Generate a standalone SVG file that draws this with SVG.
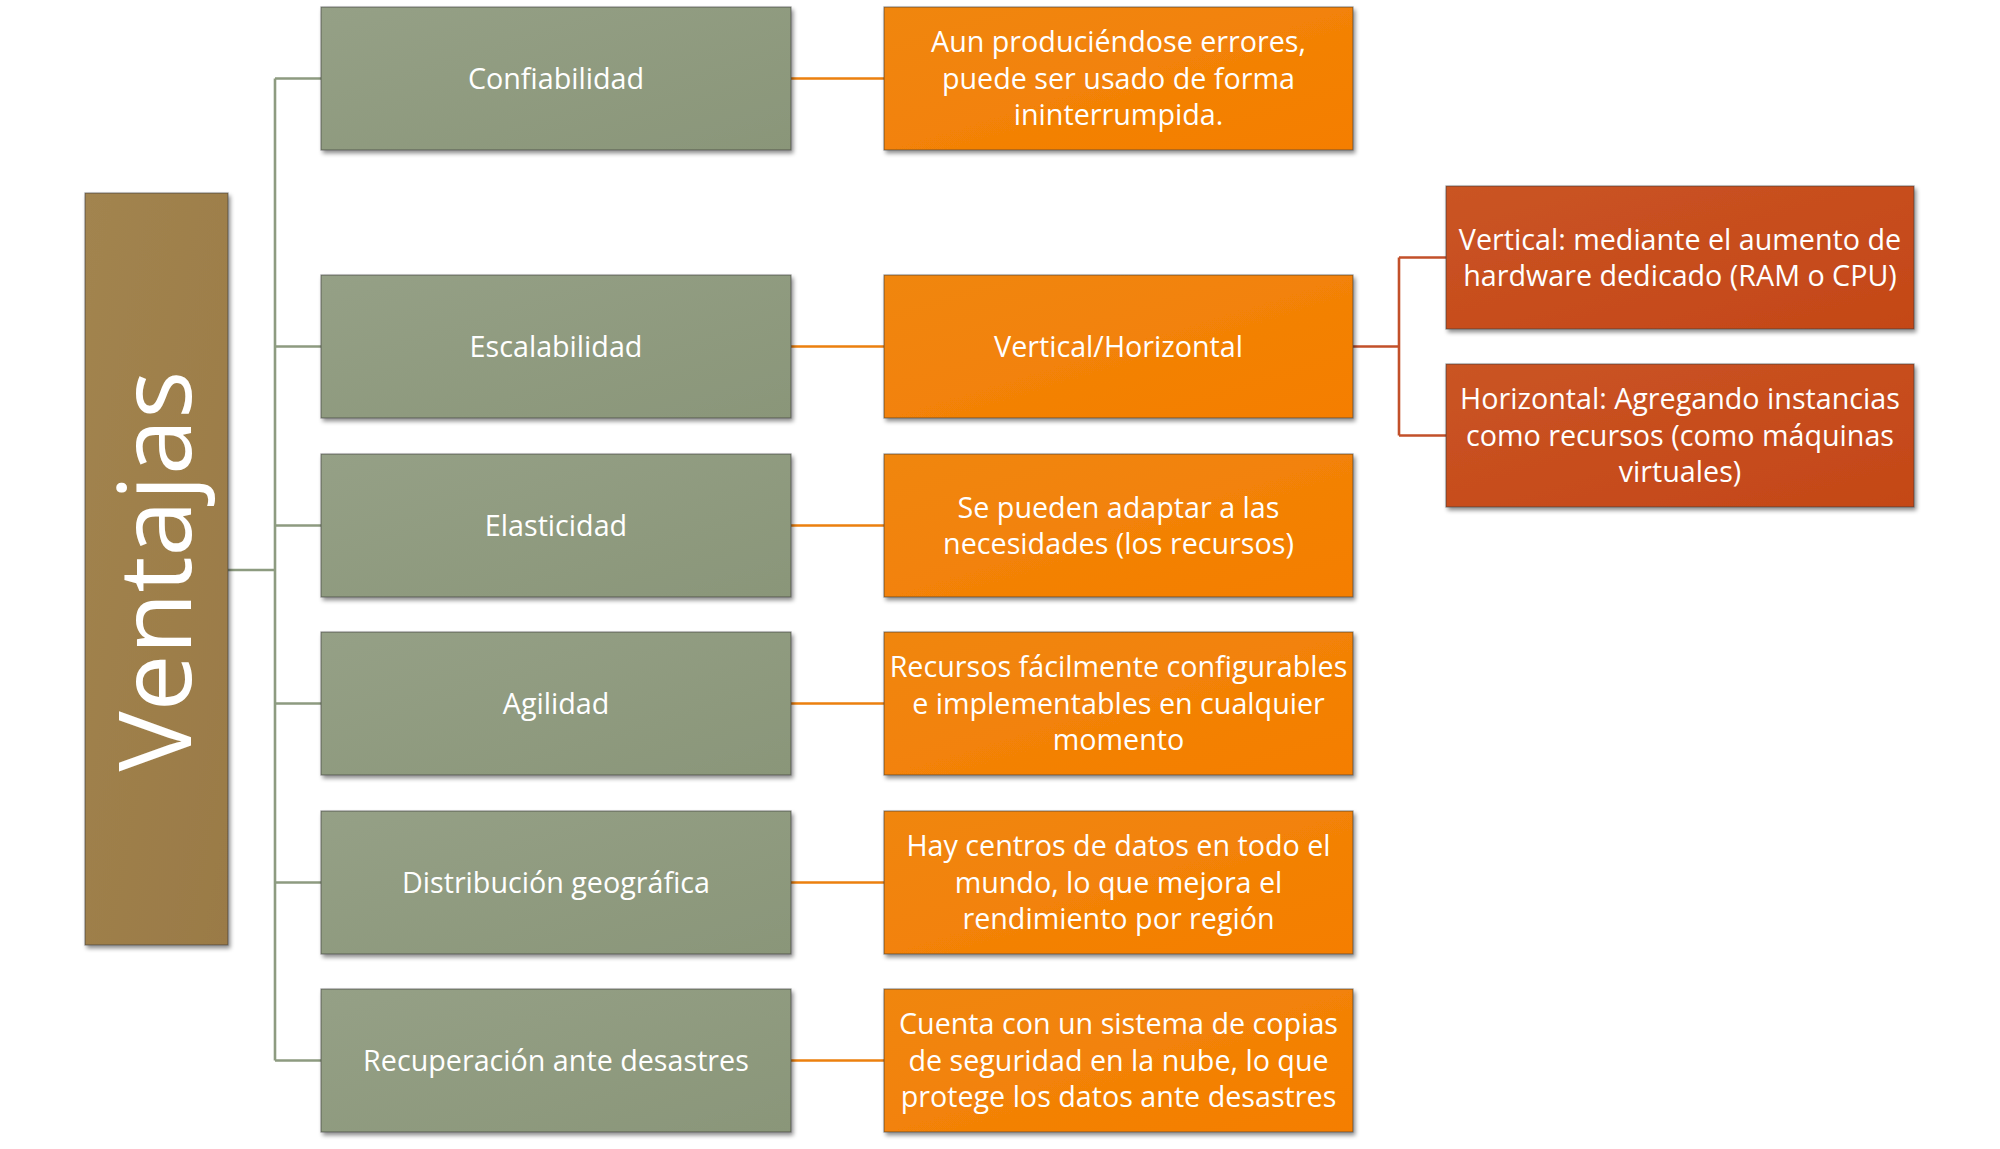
<svg xmlns="http://www.w3.org/2000/svg" width="2000" height="1149" viewBox="0 0 2000 1149">
<defs>
<linearGradient id="gGreen" x1="0" y1="0" x2="1" y2="1">
<stop offset="0" stop-color="#95A086"/>
<stop offset="1" stop-color="#8A9679"/>
</linearGradient>
<linearGradient id="gOrange" x1="0" y1="0" x2="1" y2="1">
<stop offset="0" stop-color="#F0860E"/>
<stop offset="1" stop-color="#F57E00"/>
</linearGradient>
<linearGradient id="gRed" x1="0" y1="0" x2="1" y2="1">
<stop offset="0" stop-color="#CA5424"/>
<stop offset="1" stop-color="#C44717"/>
</linearGradient>
<linearGradient id="gBrown" x1="0" y1="0" x2="1" y2="1">
<stop offset="0" stop-color="#A2844F"/>
<stop offset="1" stop-color="#9A7A46"/>
</linearGradient>
<filter id="shadow" x="-5%" y="-5%" width="112%" height="115%">
<feDropShadow dx="2" dy="3" stdDeviation="2" flood-color="#000" flood-opacity="0.45"/>
</filter>
</defs>
<style>
.box{stroke:#3c3c3c;stroke-opacity:0.55;stroke-width:1.2;filter:url(#shadow)}
.green{fill:url(#gGreen)}
.orange{fill:url(#gOrange)}
.red{fill:url(#gRed)}
.brown{fill:url(#gBrown)}
.t{font-family:"Open Sans","Noto Sans","Liberation Sans",sans-serif;font-size:28.7px;fill:#FFFFFF;text-anchor:middle}
.big{font-family:"Open Sans","Noto Sans","Liberation Sans",sans-serif;font-size:101px;fill:#FFFFFF;text-anchor:middle}
.cg{stroke:#8D9B80;stroke-width:2.6;fill:none}
.co{stroke:#EC800E;stroke-width:2.6;fill:none}
.cr{stroke:#C2502A;stroke-width:2.6;fill:none}
</style>
<g id="connectors">
<path class="cg" d="M228 570H275M275 78.5V1060.5M275 78.5H321M275 346.5H321M275 525.5H321M275 703.5H321M275 882.5H321M275 1060.5H321"/>
<path class="co" d="M791 78.5H884M791 346.5H884M791 525.5H884M791 703.5H884M791 882.5H884M791 1060.5H884"/>
<path class="cr" d="M1353 346.5H1399M1399 257.5V435.5M1399 257.5H1446M1399 435.5H1446"/>
</g>
<g id="ventajas">
<rect class="box brown" x="85" y="193" width="143" height="752"/>
<text class="big" transform="translate(191 571) rotate(-90)" x="0" y="0">Ventajas</text>
</g>
<g id="confiabilidad">
<rect class="box green" x="321" y="7" width="470" height="143"/>
<text class="t" x="556" y="88.5">Confiabilidad</text>
</g>
<g id="escalabilidad">
<rect class="box green" x="321" y="275" width="470" height="143"/>
<text class="t" x="556" y="356.5">Escalabilidad</text>
</g>
<g id="elasticidad">
<rect class="box green" x="321" y="454" width="470" height="143"/>
<text class="t" x="556" y="535.5">Elasticidad</text>
</g>
<g id="agilidad">
<rect class="box green" x="321" y="632" width="470" height="143"/>
<text class="t" x="556" y="713.5">Agilidad</text>
</g>
<g id="distribucion">
<rect class="box green" x="321" y="811" width="470" height="143"/>
<text class="t" x="556" y="892.5">Distribución geográfica</text>
</g>
<g id="recuperacion">
<rect class="box green" x="321" y="989" width="470" height="143"/>
<text class="t" x="556" y="1070.5">Recuperación ante desastres</text>
</g>
<g id="desc-confiabilidad">
<rect class="box orange" x="884" y="7" width="469" height="143"/>
<text class="t"><tspan x="1118.5" y="52">Aun produciéndose errores,</tspan><tspan x="1118.5" y="88.5">puede ser usado de forma</tspan><tspan x="1118.5" y="125">ininterrumpida.</tspan></text>
</g>
<g id="desc-escalabilidad">
<rect class="box orange" x="884" y="275" width="469" height="143"/>
<text class="t" x="1118.5" y="356.5">Vertical/Horizontal</text>
</g>
<g id="desc-elasticidad">
<rect class="box orange" x="884" y="454" width="469" height="143"/>
<text class="t"><tspan x="1118.5" y="517.5">Se pueden adaptar a las</tspan><tspan x="1118.5" y="554">necesidades (los recursos)</tspan></text>
</g>
<g id="desc-agilidad">
<rect class="box orange" x="884" y="632" width="469" height="143"/>
<text class="t"><tspan x="1118.5" y="677">Recursos fácilmente configurables</tspan><tspan x="1118.5" y="713.5">e implementables en cualquier</tspan><tspan x="1118.5" y="750">momento</tspan></text>
</g>
<g id="desc-distribucion">
<rect class="box orange" x="884" y="811" width="469" height="143"/>
<text class="t"><tspan x="1118.5" y="856">Hay centros de datos en todo el</tspan><tspan x="1118.5" y="892.5">mundo, lo que mejora el</tspan><tspan x="1118.5" y="929">rendimiento por región</tspan></text>
</g>
<g id="desc-recuperacion">
<rect class="box orange" x="884" y="989" width="469" height="143"/>
<text class="t"><tspan x="1118.5" y="1034">Cuenta con un sistema de copias</tspan><tspan x="1118.5" y="1070.5">de seguridad en la nube, lo que</tspan><tspan x="1118.5" y="1107">protege los datos ante desastres</tspan></text>
</g>
<g id="vertical">
<rect class="box red" x="1446" y="186" width="468" height="143"/>
<text class="t"><tspan x="1680" y="249.5">Vertical: mediante el aumento de</tspan><tspan x="1680" y="286">hardware dedicado (RAM o CPU)</tspan></text>
</g>
<g id="horizontal">
<rect class="box red" x="1446" y="364" width="468" height="143"/>
<text class="t"><tspan x="1680" y="409">Horizontal: Agregando instancias</tspan><tspan x="1680" y="445.5">como recursos (como máquinas</tspan><tspan x="1680" y="482">virtuales)</tspan></text>
</g>
</svg>
